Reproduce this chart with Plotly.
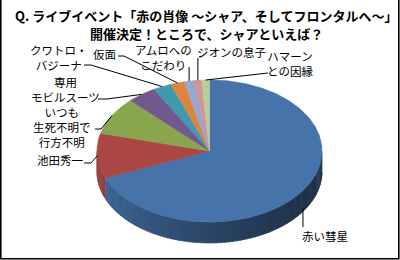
import numpy as np
import plotly.graph_objects as go

# ---- data ----
categories = ["赤い彗星", "池田秀一", "いつも生死不明で行方不明", "専用モビルスーツ",
              "クワトロ・バジーナ", "仮面", "アムロへのこだわり", "ジオンの息子", "ハマーンとの因縁"]
values = [68.8, 10.2, 8.6, 4.2, 2.6, 2.0, 1.4, 1.1, 1.1]
label_texts = ["赤い彗星", "池田秀一", "いつも<br>生死不明で<br>行方不明", "専用<br>モビルスーツ",
               "クワトロ・<br>バジーナ", "仮面", "アムロへの<br>こだわり", "ジオンの息子", "ハマーン<br>との因縁"]
title_lines = ["Q. ライブイベント「赤の肖像 ～シャア、そしてフロンタルへ～」",
               "開催決定！ところで、シャアといえば？"]

# ---- style / layout ----
colors = ["#4673A9", "#AA4744", "#89A64E", "#71598F", "#4199B0", "#DC853E", "#94A9D0", "#D29494", "#BACE97"]
CX, CY, RX, RY, DEPTH = 209.5, 151.0, 112.5, 71.0, 21.0
FONT = "Noto Sans CJK JP"

# label placement: text centre, leader path (text side points), mode
label_layout = [
    dict(pos=(325, 236), vert_end=227),
    dict(pos=(60, 160), path=[(84, 163), (91, 163)]),
    dict(pos=(62, 127), path=[(95, 129), (101, 129)]),
    dict(pos=(65, 89), path=[(98, 99), (107, 99)]),
    dict(pos=(59, 57), path=[(84, 65), (91, 65)]),
    dict(pos=(104, 54), path=[(118, 56), (124, 56)]),
    dict(pos=(163, 57), vert_end=67),
    dict(pos=(231, 52), vert_end=58),
    dict(pos=(290, 63), path=[(268, 73)]),
]
title_pos = [(206, 15), (206, 33)]


def pt(theta_deg, dy=0.0):
    r = np.radians(theta_deg)
    return CX + RX * np.sin(r), CY - RY * np.cos(r) + dy


def shade(hexc, f):
    h = hexc.lstrip("#")
    rgb = [int(h[i:i + 2], 16) for i in (0, 2, 4)]
    return "rgb({},{},{})".format(*[max(0, min(255, int(round(c * f)))) for c in rgb])


total = float(sum(values))
bounds = np.concatenate([[0.0], np.cumsum(values) / total * 360.0])

fig = go.Figure()

# side walls (visible front half: 90..270 deg clockwise from top)
for i in range(len(values)):
    a0, a1 = max(bounds[i], 90.0), min(bounds[i + 1], 270.0)
    if a1 <= a0:
        continue
    n = max(1, int(np.ceil((a1 - a0) / 2.0)))
    edges = np.linspace(a0, a1, n + 1)
    for t0, t1 in zip(edges[:-1], edges[1:]):
        ts = np.linspace(t0, t1 + 0.4 if t1 < a1 else t1, 4)
        top = [pt(t) for t in ts]
        bot = [pt(t, DEPTH) for t in ts[::-1]]
        poly = top + bot
        tm = np.radians((t0 + t1) / 2)
        u = (1 - np.sin(tm)) / 2.0
        f = 0.42 + 0.46 * u ** 1.3
        col = shade(colors[i], f)
        fig.add_trace(go.Scatter(x=[p[0] for p in poly], y=[p[1] for p in poly],
                                 fill="toself", fillcolor=col, mode="lines",
                                 line=dict(color=col, width=0.6), hoverinfo="skip"))

# top faces
for i in range(len(values)):
    a0, a1 = bounds[i], bounds[i + 1]
    n = max(3, int(np.ceil((a1 - a0) / 1.0)))
    ts = np.linspace(a0, a1, n + 1)
    poly = [(CX, CY)] + [pt(t) for t in ts] + [(CX, CY)]
    fig.add_trace(go.Scatter(x=[p[0] for p in poly], y=[p[1] for p in poly],
                             fill="toself", fillcolor=colors[i], mode="lines",
                             line=dict(color=colors[i], width=0.6),
                             name=categories[i], hoverinfo="name"))

# leader lines + labels
annotations = []
for i, lay in enumerate(label_layout):
    mid = (bounds[i] + bounds[i + 1]) / 2.0
    if i == 0:
        ax, ay = pt(mid, DEPTH * 0.85)
    else:
        ax, ay = pt(mid)
    if "vert_end" in lay:
        xs, ys = [ax, ax], [lay["vert_end"], ay]
    else:
        xs = [p[0] for p in lay["path"]] + [ax]
        ys = [p[1] for p in lay["path"]] + [ay]
    fig.add_trace(go.Scatter(x=xs, y=ys, mode="lines",
                             line=dict(color="black", width=1), hoverinfo="skip"))
    annotations.append(dict(x=lay["pos"][0], y=lay["pos"][1], xref="x", yref="y",
                            text=label_texts[i], showarrow=False, align="center",
                            xanchor="center", yanchor="middle",
                            font=dict(family=FONT, size=11.5, color="black")))

for line, (tx, ty) in zip(title_lines, title_pos):
    annotations.append(dict(x=tx, y=ty, xref="x", yref="y", text="<b>" + line + "</b>",
                            showarrow=False, align="center", xanchor="center", yanchor="middle",
                            font=dict(family=FONT, size=13, color="black")))

fig.update_layout(
    width=400, height=260, margin=dict(l=0, r=0, t=0, b=0),
    paper_bgcolor="white", plot_bgcolor="white", showlegend=False,
    xaxis=dict(range=[0, 400], visible=False, fixedrange=True),
    yaxis=dict(range=[260, 0], visible=False, fixedrange=True),
    annotations=annotations,
    shapes=[dict(type="path", xref="x", yref="y",
                 path="M 0.8,-5 L 0.8,258.7 L 398.8,258.7 L 398.8,-5",
                 line=dict(color="black", width=1.6))],
)

fig.write_html("out.html")
